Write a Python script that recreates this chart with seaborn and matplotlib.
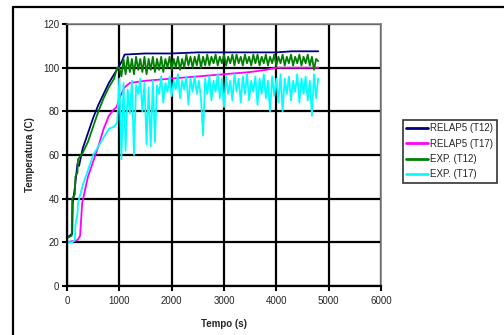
import numpy as np
import pandas as pd
import matplotlib
matplotlib.use("Agg")
import matplotlib.pyplot as plt
import seaborn as sns
from matplotlib.lines import Line2D

# --- data ---
# RELAP5 (T12)
t_relap_t12 = [0, 100, 110, 150, 200, 230, 300, 400, 500, 600, 700, 800, 900, 980,
               1050, 1100, 1500, 2000, 2500, 3000, 3500, 4000, 4300, 4800]
v_relap_t12 = [22, 24, 38, 45, 56, 55, 63, 70, 77, 83, 88, 93, 97, 100,
               103, 106, 106.5, 106.5, 107, 107, 107, 107, 107.5, 107.5]

# RELAP5 (T17)
t_relap_t17 = [0, 200, 250, 290, 400, 500, 600, 700, 800, 900, 950, 1000, 1100, 1200,
               1500, 2000, 2500, 3000, 3500, 3800, 4000, 4800]
v_relap_t17 = [20, 21, 23, 38, 50, 57, 64, 72, 78, 81, 82, 86, 91, 93,
               94, 95, 96, 97, 98, 99, 100, 100]

# experimental sampling times (ramp, then logger samples)
t_exp_ramp = [0, 90, 100, 150, 160, 200, 210, 300, 400, 500, 600, 700, 800, 900, 960]
t_exp_osc = [1000, 1040, 1080, 1120, 1160, 1200, 1240, 1280, 1320, 1360, 1400, 1440,
             1480, 1520, 1560, 1600, 1640, 1680, 1720, 1760, 1800, 1840, 1880, 1920,
             1960, 2000, 2040, 2080, 2120, 2160, 2200, 2240, 2280, 2320, 2360, 2400,
             2440, 2480, 2520, 2560, 2600, 2640, 2680, 2720, 2760, 2800, 2840, 2880,
             2920, 2960, 3000, 3040, 3080, 3120, 3160, 3200, 3240, 3280, 3320, 3360,
             3400, 3440, 3480, 3520, 3560, 3600, 3640, 3680, 3720, 3760, 3800, 3840,
             3880, 3920, 3960, 4000, 4040, 4080, 4120, 4160, 4200, 4240, 4280, 4320,
             4360, 4400, 4440, 4480, 4520, 4560, 4600, 4640, 4680, 4720, 4760, 4800]

# EXP. (T12)
v_exp_t12_ramp = [22, 23, 40, 42, 50, 52, 58, 61, 66, 73, 80, 86, 91, 95, 100]
v_exp_t12_osc = [100, 96, 104, 97, 105, 98, 104, 97, 105, 99, 104, 98,
                 105, 97, 104, 99, 105, 98, 104, 99, 105, 98, 104, 100,
                 105, 99, 104, 100, 105, 99, 104, 100, 106, 101, 105, 100,
                 105, 101, 106, 100, 105, 101, 106, 101, 105, 102, 106, 101,
                 105, 102, 106, 101, 105, 102, 106, 101, 106, 102, 105, 101,
                 106, 102, 105, 101, 106, 102, 106, 101, 105, 102, 106, 101,
                 105, 102, 106, 101, 105, 102, 106, 101, 105, 102, 106, 101,
                 105, 102, 106, 101, 105, 102, 106, 101, 105, 99, 104, 103]

# EXP. (T17)
v_exp_t17_ramp = [20, 20, 20, 21, 28, 33, 38, 46, 53, 60, 64, 68, 72, 73, 75]
v_exp_t17_osc = [95, 58, 93, 62, 90, 79, 94, 60, 92, 88, 95, 80,
                 93, 65, 91, 64, 94, 66, 92, 88, 96, 84, 93, 89,
                 96, 87, 94, 90, 97, 86, 94, 90, 96, 83, 95, 89,
                 96, 88, 94, 86, 69, 95, 88, 96, 85, 94, 89, 97,
                 86, 95, 82, 96, 88, 94, 85, 97, 89, 95, 84, 96,
                 88, 97, 85, 94, 89, 96, 83, 95, 88, 97, 86, 94,
                 80, 96, 87, 95, 84, 97, 80, 95, 88, 96, 85, 94,
                 89, 97, 84, 95, 88, 96, 85, 94, 78, 97, 86, 95]

labels = ["RELAP5 (T12)", "RELAP5 (T17)", "EXP. (T12)", "EXP. (T17)"]
colors = ["#000080", "#FF00FF", "#008000", "#00FFFF"]

frames = [
    pd.DataFrame({"t": t_relap_t12, "T": v_relap_t12, "serie": labels[0]}),
    pd.DataFrame({"t": t_relap_t17, "T": v_relap_t17, "serie": labels[1]}),
    pd.DataFrame({"t": t_exp_ramp + t_exp_osc, "T": v_exp_t12_ramp + v_exp_t12_osc, "serie": labels[2]}),
    pd.DataFrame({"t": t_exp_ramp + t_exp_osc, "T": v_exp_t17_ramp + v_exp_t17_osc, "serie": labels[3]}),
]
df = pd.concat(frames, ignore_index=True)

sns.set_style("white")
plt.rcParams["font.family"] = ["Liberation Sans", "DejaVu Sans"]

fig = plt.figure(figsize=(5.04, 3.35), dpi=100)
ax = fig.add_axes([67 / 504, 1 - 286 / 335, (381 - 67) / 504, (286 - 24) / 335])

sns.lineplot(data=df, x="t", y="T", hue="serie", hue_order=labels,
             palette=dict(zip(labels, colors)), estimator=None, sort=False,
             linewidth=1.3, ax=ax, legend=False)

ax.set_xlim(0, 6000)
ax.set_ylim(0, 120)
ax.set_xticks(range(0, 6001, 1000))
ax.set_yticks(range(0, 121, 20))
ax.grid(True, color="black", linewidth=1.6)
ax.set_axisbelow(True)

for side in ["left", "bottom"]:
    ax.spines[side].set_color("black")
    ax.spines[side].set_linewidth(1.6)
for side in ["top", "right"]:
    ax.spines[side].set_color("#808080")
    ax.spines[side].set_linewidth(1.2)

ax.tick_params(axis="both", which="major", direction="out", length=3.5, width=1.5,
               color="black", labelsize=7, pad=2, left=True, bottom=True)
ax.tick_params(axis="x", pad=4)

ax.set_xlabel("Tempo (s)", fontsize=7, fontweight="bold", labelpad=9)
ax.set_ylabel("Temperatura (C)", fontsize=7, fontweight="bold", labelpad=6)

handles = [Line2D([], [], color=c, linewidth=2) for c in colors]
leg = fig.legend(handles, labels, loc="upper left", bbox_to_anchor=(403 / 504, 1 - 120 / 335),
                 fontsize=7, frameon=True, fancybox=False, shadow=False,
                 handlelength=2.2, handletextpad=0.25, labelspacing=0.55,
                 borderpad=0.35, borderaxespad=0)
leg.get_frame().set_edgecolor("black")
leg.get_frame().set_linewidth(1.2)

# outer frame of the chart area
fig.add_artist(Line2D([13 / 504, 1], [1 - 7 / 335, 1 - 7 / 335], color="black", linewidth=1.6,
                      transform=fig.transFigure))
fig.add_artist(Line2D([13 / 504, 13 / 504], [0, 1 - 7 / 335], color="black", linewidth=1.6,
                      transform=fig.transFigure))

fig.savefig("out.png", dpi=100)
